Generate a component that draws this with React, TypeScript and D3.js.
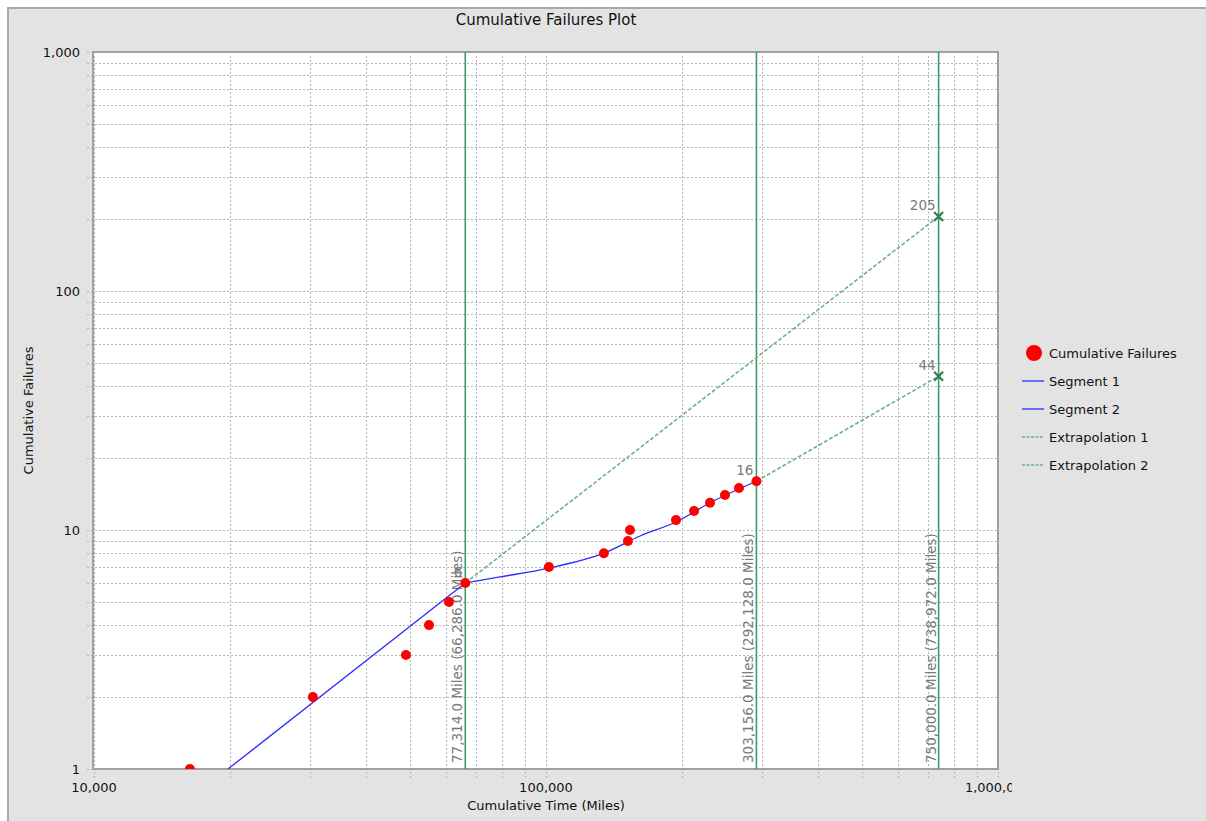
import React from "react";
import * as d3 from "d3";

const W = 1206;
const H = 821;
const M = { left: 94, right: 998, top: 52, bottom: 769 };

const failTimes = [16300, 30500, 49000, 55100, 61000, 66286, 101500, 134300, 151800, 153400, 193900, 212600, 230600, 248900, 267300, 292128];
const failCounts = [1, 2, 3, 4, 5, 6, 7, 8, 9, 10, 11, 12, 13, 14, 15, 16];

const seg1Times = [19790, 66286];
const seg1Counts = [1, 6];

const seg2Times = [66286, 79100, 101500, 134300, 161500, 193900, 230600, 292128];
const seg2Counts = [6, 6.36, 6.93, 8, 9.44, 10.8, 13, 16];

const ext1Times = [66286, 738972];
const ext1Counts = [6, 205];
const ext2Times = [292128, 738972];
const ext2Counts = [16, 44];

const markerTimes = [66286, 292128, 738972];
const markerLabels = [
  "77,314.0 Miles (66,286.0 Miles)",
  "303,156.0 Miles (292,128.0 Miles)",
  "750,000.0 Miles (738,972.0 Miles)",
];

const pointLabelTimes = [66286, 292128, 738972, 738972];
const pointLabelCounts = [6, 16, 205, 44];
const pointLabelTexts = ["6", "16", "205", "44"];

const endTimes = [738972, 738972];
const endCounts = [205, 44];

const xMajors = [10000, 100000, 1000000];
const xMajorLabels = ["10,000", "100,000", "1,000,000"];
const yMajors = [1, 10, 100, 1000];
const yMajorLabels = ["1", "10", "100", "1,000"];

const legendItems = ["Cumulative Failures", "Segment 1", "Segment 2", "Extrapolation 1", "Extrapolation 2"];

const FONT = "'DejaVu Sans', sans-serif";
const RED = "#ff0000";
const BLUE = "#2b2bff";
const EXT = "#6cb28c";
const VLINE = "#3f9a66";
const MARK = "#2f7f50";
const LABEL = "#7a7a7a";
const GRID = "#b4b4b4";

export default function App() {
  const x = d3.scaleLog().domain([10000, 1000000]).range([M.left, M.right]);
  const y = d3.scaleLog().domain([1, 1000]).range([M.bottom, M.top]);

  const xGrid: number[] = [];
  for (let d = 10000; d < 1000000; d *= 10) for (let k = 1; k <= 10; k++) xGrid.push(d * k);
  const yGrid: number[] = [];
  for (let d = 1; d < 1000; d *= 10) for (let k = 1; k <= 10; k++) yGrid.push(d * k);

  const line = d3
    .line<[number, number]>()
    .x((d) => x(d[0]))
    .y((d) => y(d[1]));
  const curve = d3
    .line<[number, number]>()
    .x((d) => x(d[0]))
    .y((d) => y(d[1]))
    .curve(d3.curveMonotoneX);

  const seg1 = seg1Times.map((t, i) => [t, seg1Counts[i]] as [number, number]);
  const seg2 = seg2Times.map((t, i) => [t, seg2Counts[i]] as [number, number]);
  const ext1 = ext1Times.map((t, i) => [t, ext1Counts[i]] as [number, number]);
  const ext2 = ext2Times.map((t, i) => [t, ext2Counts[i]] as [number, number]);

  const cx = (M.left + M.right) / 2;
  const cy = (M.top + M.bottom) / 2;

  return (
    <div style={{ position: "fixed", left: 0, top: 0 }}>
      <svg width={W} height={H} style={{ display: "block" }} fontFamily={FONT}>
        <defs>
          <clipPath id="plotClip">
            <rect x={M.left} y={M.top} width={M.right - M.left} height={M.bottom - M.top} />
          </clipPath>
          <clipPath id="xLabClip">
            <rect x={0} y={0} width={1012} height={H} />
          </clipPath>
        </defs>
        <rect x={0} y={0} width={W} height={H} fill="#ffffff" />
        <rect x={8} y={8} width={W + 10} height={H + 10} fill="#e3e3e3" stroke="#a9a9a9" strokeWidth={2} />

        <text x={cx} y={25} textAnchor="middle" fontSize={15} fill="#111">
          Cumulative Failures Plot
        </text>

        <rect x={M.left} y={M.top} width={M.right - M.left} height={M.bottom - M.top} fill="#ffffff" />

        {/* grid */}
        <g stroke={GRID} strokeWidth={1} strokeDasharray="2,2">
          {xGrid.map((v, i) => (
            <line key={"xg" + i} x1={Math.round(x(v)) + 0.5} x2={Math.round(x(v)) + 0.5} y1={M.top + 4} y2={M.bottom + 9} />
          ))}
          {yGrid.map((v, i) => (
            <line key={"yg" + i} x1={M.left - 7} x2={M.right} y1={Math.round(y(v)) + 0.5} y2={Math.round(y(v)) + 0.5} />
          ))}
        </g>
        <rect x={M.left - 1} y={M.top} width={M.right - M.left + 1} height={M.bottom - M.top} fill="none" stroke="#a0a0a0" strokeWidth={2} />

        {/* axis labels */}
        <g fontSize={13} fill="#111" clipPath="url(#xLabClip)">
          {xMajors.map((v, i) => (
            <text key={"xl" + i} x={x(v)} y={792} textAnchor="middle">
              {xMajorLabels[i]}
            </text>
          ))}
        </g>
        <g fontSize={13} fill="#111">
          {yMajors.map((v, i) => (
            <text key={"yl" + i} x={80} y={y(v) + 5} textAnchor="end">
              {yMajorLabels[i]}
            </text>
          ))}
        </g>
        <text x={cx} y={810} textAnchor="middle" fontSize={13} fill="#111">
          Cumulative Time (Miles)
        </text>
        <text transform={`translate(33,${cy}) rotate(-90)`} textAnchor="middle" fontSize={13} fill="#111">
          Cumulative Failures
        </text>

        <g clipPath="url(#plotClip)">
          {/* vertical marker lines */}
          {markerTimes.map((t, i) => (
            <line key={"vl" + i} x1={x(t)} x2={x(t)} y1={M.top} y2={M.bottom} stroke={VLINE} strokeWidth={1.6} />
          ))}
          {markerTimes.map((t, i) => (
            <text
              key={"vt" + i}
              transform={`translate(${x(t) - 3},${M.bottom - 6}) rotate(-90)`}
              fontSize={13.5}
              fill={LABEL}
            >
              {markerLabels[i]}
            </text>
          ))}

          {/* extrapolations */}
          <path d={line(ext1) || ""} fill="none" stroke={EXT} strokeWidth={1.6} strokeDasharray="4,2" />
          <path d={line(ext2) || ""} fill="none" stroke={EXT} strokeWidth={1.6} strokeDasharray="4,2" />

          {/* segments */}
          <path d={line(seg1) || ""} fill="none" stroke={BLUE} strokeWidth={1.3} />
          <path d={curve(seg2) || ""} fill="none" stroke={BLUE} strokeWidth={1.3} />

          {/* points */}
          {failTimes.map((t, i) => (
            <circle key={"p" + i} cx={x(t)} cy={y(failCounts[i])} r={5} fill={RED} />
          ))}

          {/* end markers */}
          {endTimes.map((t, i) => {
            const px = x(t);
            const py = y(endCounts[i]);
            const s = 4.5;
            return (
              <g key={"em" + i} stroke={MARK} strokeWidth={2.2}>
                <line x1={px - s} y1={py - s} x2={px + s} y2={py + s} />
                <line x1={px - s} y1={py + s} x2={px + s} y2={py - s} />
              </g>
            );
          })}

          {/* point labels */}
          {pointLabelTimes.map((t, i) => (
            <text key={"pl" + i} x={x(t) - 3} y={y(pointLabelCounts[i]) - 6} textAnchor="end" fontSize={13.5} fill={LABEL}>
              {pointLabelTexts[i]}
            </text>
          ))}
        </g>

        {/* legend */}
        <g fontSize={13} fill="#111">
          {legendItems.map((name, i) => {
            const ly = 353 + i * 28;
            return (
              <g key={"lg" + i}>
                {i === 0 && <circle cx={1034} cy={ly} r={8} fill={RED} />}
                {(i === 1 || i === 2) && <line x1={1022} x2={1044} y1={ly} y2={ly} stroke={BLUE} strokeWidth={1.3} />}
                {(i === 3 || i === 4) && (
                  <line x1={1022} x2={1044} y1={ly} y2={ly} stroke={EXT} strokeWidth={1.3} strokeDasharray="3,1.5" />
                )}
                <text x={1049} y={ly + 5}>
                  {name}
                </text>
              </g>
            );
          })}
        </g>
      </svg>
    </div>
  );
}
